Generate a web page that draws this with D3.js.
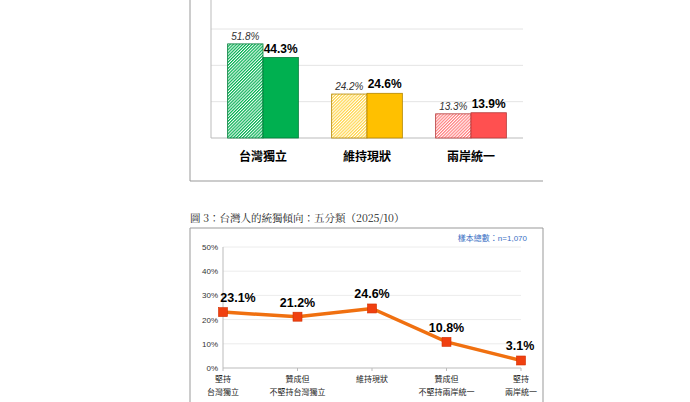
<!DOCTYPE html><html><head><meta charset="utf-8">
<script src="https://cdn.jsdelivr.net/npm/d3@7"></script>
<style>body{margin:0;background:#fff}svg{display:block}</style></head><body>
<svg id="c" width="690" height="402"></svg>
<script>
const barCats=["台灣獨立","維持現狀","兩岸統一"];
const prevVals=[51.8,24.2,13.3];
const currVals=[44.3,24.6,13.9];
const solidColors=["#00b050","#ffc000","#ff5050"];
const hatchColors=["#00b050","#ffd54a","#ff8080"];
const lineCats=[["堅持","台灣獨立"],["贊成但","不堅持台灣獨立"],["維持現狀"],["贊成但","不堅持兩岸統一"],["堅持","兩岸統一"]];
const lineVals=[23.1,21.2,24.6,10.8,3.1];
const yTicks=[0,10,20,30,40,50];
const font="'Liberation Sans','Noto Sans CJK TC',sans-serif";
const svg=d3.select("#c");
const defs=svg.append("defs");
hatchColors.forEach((c,i)=>{
 const p=defs.append("pattern").attr("id","h"+i).attr("width",2.2).attr("height",2.2).attr("patternUnits","userSpaceOnUse").attr("patternTransform","rotate(45)");
 p.append("rect").attr("width",2.2).attr("height",2.2).attr("fill","#fff");
 p.append("rect").attr("width",1.2).attr("height",2.2).attr("fill",c);
});
svg.append("path").attr("d","M190,0V181H543").attr("fill","none").attr("stroke","#999");
const by=d3.scaleLinear().domain([0,60]).range([138,29]);
[20,40,60].forEach(v=>svg.append("line").attr("x1",211).attr("x2",523).attr("y1",by(v)).attr("y2",by(v)).attr("stroke","#e4e4e4"));
svg.append("line").attr("x1",211).attr("x2",211).attr("y1",0).attr("y2",138).attr("stroke","#bbb");
svg.append("line").attr("x1",211).attr("x2",523).attr("y1",138).attr("y2",138).attr("stroke","#bbb");
const bx=d3.scaleBand().domain(barCats).range([211,523]).paddingInner(0.32).paddingOuter(0.16);
const g=svg.append("g");
barCats.forEach((c,i)=>{
 const x0=bx(c),w=bx.bandwidth()/2;
 g.append("rect").attr("x",x0).attr("y",by(prevVals[i])).attr("width",w).attr("height",138-by(prevVals[i])).attr("fill","url(#h"+i+")").attr("stroke",d3.color(solidColors[i]).darker(1)).attr("stroke-width",0.8);
 g.append("rect").attr("x",x0+w).attr("y",by(currVals[i])).attr("width",w).attr("height",138-by(currVals[i])).attr("fill",solidColors[i]).attr("stroke",d3.color(solidColors[i]).darker(1)).attr("stroke-width",0.8);
 g.append("text").attr("x",x0+w/2).attr("y",by(prevVals[i])-4).attr("text-anchor","middle").attr("font-family",font).attr("font-style","italic").attr("font-size",10).attr("fill","#333").text(prevVals[i].toFixed(1)+"%");
 g.append("text").attr("x",x0+w*1.5).attr("y",by(currVals[i])-5).attr("text-anchor","middle").attr("font-family",font).attr("font-weight","bold").attr("font-size",12).text(currVals[i].toFixed(1)+"%");
 g.append("text").attr("x",x0+w).attr("y",161).attr("text-anchor","middle").attr("font-family",font).attr("font-weight","bold").attr("font-size",12).text(c);
});
svg.append("text").attr("x",190).attr("y",222).attr("font-family","'Noto Serif CJK TC','Noto Sans CJK TC',serif").attr("font-size",10.5).attr("fill","#222").text("圖 3：台灣人的統獨傾向：五分類（2025/10）");
svg.append("path").attr("d","M190,402V228H543V402").attr("fill","none").attr("stroke","#999");
svg.append("text").attr("x",527).attr("y",241).attr("text-anchor","end").attr("font-family",font).attr("font-size",8).attr("fill","#3a6fc4").text("樣本總數：n=1,070");
const ly=d3.scaleLinear().domain([0,50]).range([368,247]);
const lx=d3.scalePoint().domain(d3.range(lineCats.length)).range([223,521]);
yTicks.forEach(v=>{
 svg.append("line").attr("x1",223).attr("x2",521).attr("y1",ly(v)).attr("y2",ly(v)).attr("stroke",v?"#ececec":"#bbb");
 svg.append("text").attr("x",218).attr("y",ly(v)+3).attr("text-anchor","end").attr("font-family",font).attr("font-size",8).attr("fill","#333").text(v+"%");
});
svg.append("line").attr("x1",223).attr("x2",223).attr("y1",247).attr("y2",368).attr("stroke","#bbb");
lineCats.forEach((c,i)=>{
 svg.append("line").attr("x1",lx(i)).attr("x2",lx(i)).attr("y1",368).attr("y2",371).attr("stroke","#bbb");
 c.forEach((t,j)=>svg.append("text").attr("x",lx(i)).attr("y",382+j*13).attr("text-anchor","middle").attr("font-family",font).attr("font-size",8).attr("fill","#222").text(t));
});
svg.append("path").datum(lineVals).attr("d",d3.line().x((d,i)=>lx(i)).y(d=>ly(d))).attr("fill","none").attr("stroke","#f07010").attr("stroke-width",3.5);
lineVals.forEach((v,i)=>{
 svg.append("rect").attr("x",lx(i)-4.5).attr("y",ly(v)-4.5).attr("width",9).attr("height",9).attr("fill","#f04010").attr("stroke","#d03000").attr("stroke-width",0.6);
 svg.append("text").attr("x",lx(i)+(i==0?15:i==4?-1:0)).attr("y",ly(v)-10).attr("text-anchor","middle").attr("font-family",font).attr("font-weight","bold").attr("font-size",12.5).text(v.toFixed(1)+"%");
});
</script></body></html>
